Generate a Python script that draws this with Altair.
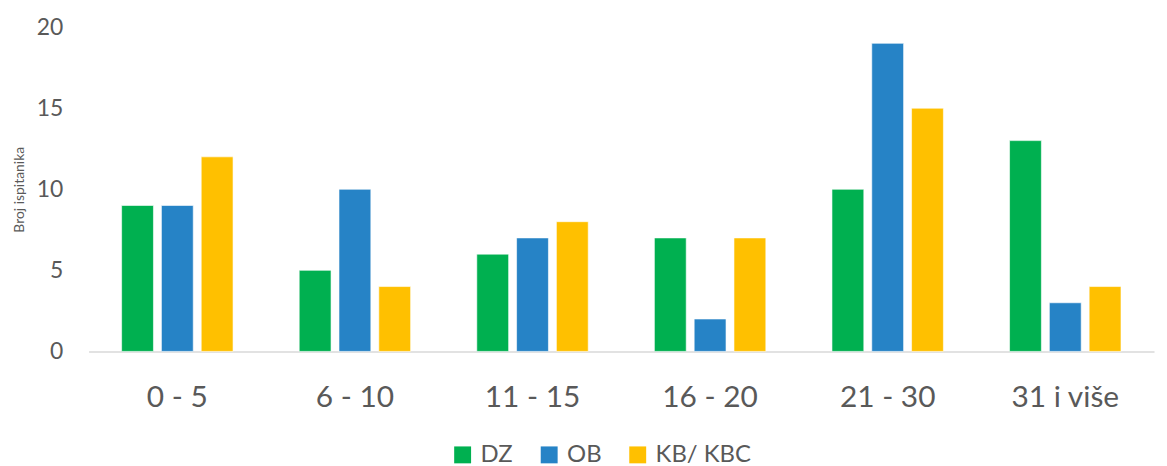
import altair as alt
import pandas as pd

categories = ["0 - 5", "6 - 10", "11 - 15", "16 - 20", "21 - 30", "31 i više"]
series = ["DZ", "OB", "KB/ KBC"]
dz = [9, 5, 6, 7, 10, 13]
ob = [9, 10, 7, 2, 19, 3]
kb = [12, 4, 8, 7, 15, 4]
colors = ["#00B050", "#2683C6", "#FFC000"]

rows = []
for i, c in enumerate(categories):
    for s, vals in zip(series, [dz, ob, kb]):
        rows.append({"kat": c, "grupa": s, "broj": vals[i]})
df = pd.DataFrame(rows)

FONT = "Lato"
GREY = "#595959"

chart = alt.Chart(df).mark_bar(stroke="white", strokeWidth=0.6).encode(
    x=alt.X("kat:N", sort=categories, title=None,
            scale=alt.Scale(paddingInner=0.3725, paddingOuter=0.186),
            axis=alt.Axis(labelAngle=0, labelFontSize=30, labelColor=GREY, labelFont=FONT,
                          labelPadding=31, ticks=False, domainColor="#D9D9D9", domainWidth=1.5)),
    xOffset=alt.XOffset("grupa:N", sort=series,
                        scale=alt.Scale(paddingInner=0.2, paddingOuter=0)),
    y=alt.Y("broj:Q", title="Broj ispitanika",
            scale=alt.Scale(domain=[0, 20]),
            axis=alt.Axis(values=[0, 5, 10, 15, 20], grid=False, domain=False, ticks=False,
                          labelFontSize=23, labelColor=GREY, labelFont=FONT, labelPadding=26,
                          titleFontSize=14, titleFont=FONT, titleColor=GREY,
                          titleFontWeight="normal", titlePadding=10)),
    color=alt.Color("grupa:N", sort=series, scale=alt.Scale(domain=series, range=colors),
                    legend=alt.Legend(title=None, orient="none", direction="horizontal",
                                      legendX=364, legendY=418,
                                      symbolType="square", symbolSize=289, symbolStrokeWidth=0,
                                      labelFontSize=24, labelFont=FONT, labelColor=GREY,
                                      labelOffset=6, columnPadding=24)),
).properties(
    width=1071, height=326,
    padding={"left": 4, "top": 7, "right": 5, "bottom": 5},
).configure_view(stroke=None)

chart.save("out.html", embed_options={"renderer": "svg", "actions": False})
